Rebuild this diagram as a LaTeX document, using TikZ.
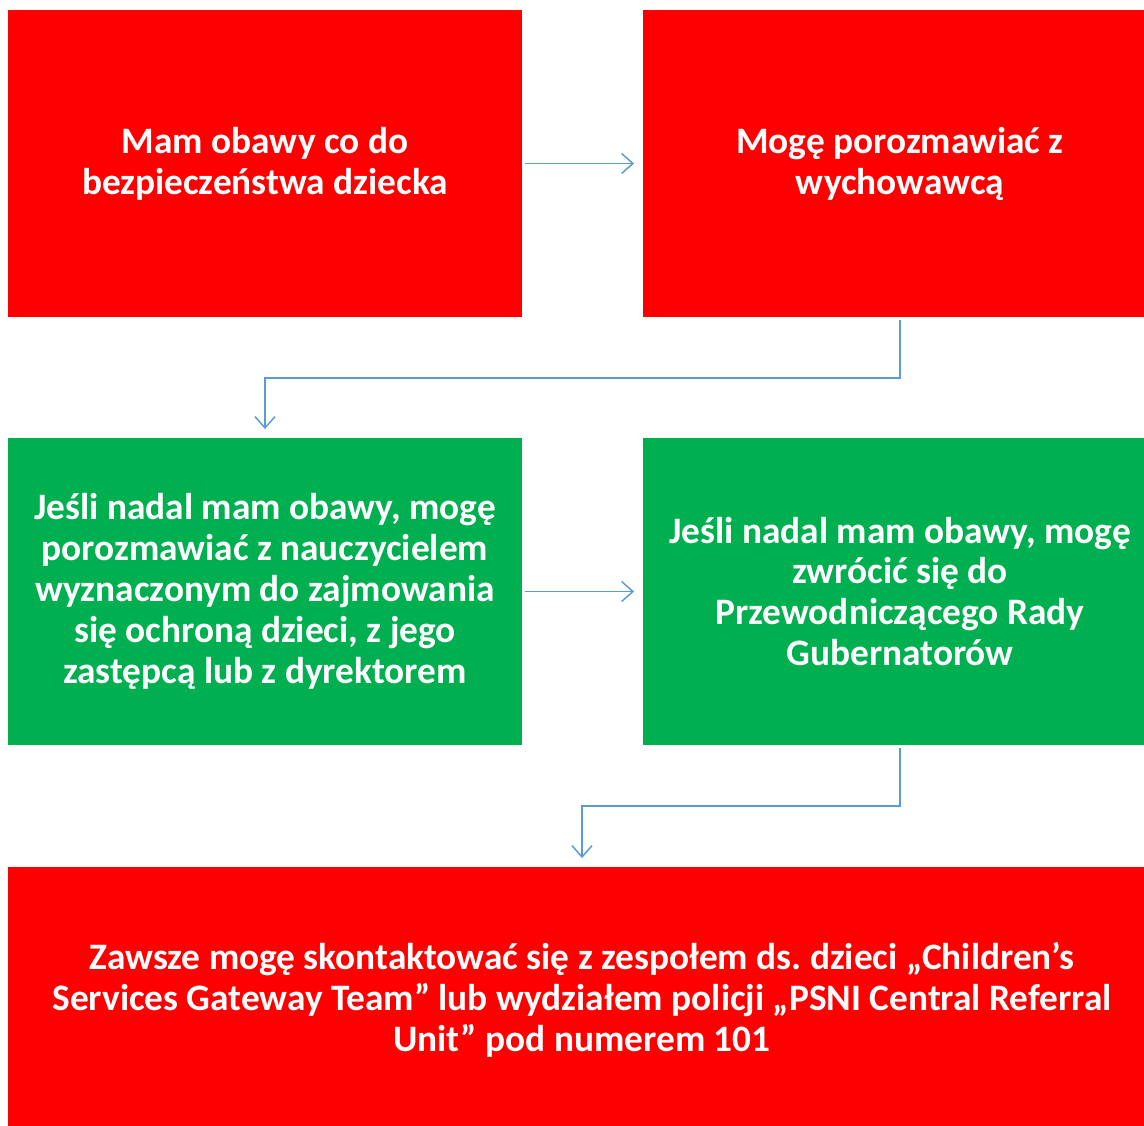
\documentclass[tikz,border=0pt]{standalone}
\usepackage{fontspec}
\setmainfont{Carlito}
\usetikzlibrary{arrows.meta}
\definecolor{boxred}{HTML}{FF0000}
\definecolor{boxgreen}{HTML}{00B050}
\definecolor{arrowblue}{HTML}{5B9BD5}
\tikzset{
  box/.style={rectangle, inner sep=0pt, text=white, font=\bfseries\frenchspacing\fontsize{28}{30.7}\selectfont, align=center},
  redbox/.style={box, fill=boxred},
  greenbox/.style={box, fill=boxgreen},
  arr/.style={draw=arrowblue, line width=1.1pt, -{Straight Barb[length=8.5pt,width=15pt,line width=1.1pt]}, shorten <=2.25pt, shorten >=6.5pt}
}
\begin{document}
\begin{tikzpicture}[x=0.75pt,y=-0.75pt]
\clip (0,0) rectangle (1144,1126);
\fill[white] (0,0) rectangle (1144,1126);
\node[redbox, minimum width=385.5pt, minimum height=230.25pt] (b1) at (265,163.5) {Mam obawy co do\\bezpieczeństwa dziecka};
\node[redbox, minimum width=385.5pt, minimum height=230.25pt] (b2) at (900,163.5) {Mogę porozmawiać z\\wychowawcą};
\node[greenbox, minimum width=385.5pt, minimum height=230.25pt] (b3) at (265,591.5) {Jeśli nadal mam obawy, mogę\\porozmawiać z nauczycielem\\wyznaczonym do zajmowania\\się ochroną dzieci, z jego\\zastępcą lub z dyrektorem};
\node[greenbox, minimum width=385.5pt, minimum height=230.25pt] (b4) at (900,591.5) {Jeśli nadal mam obawy, mogę\\zwrócić się do\\Przewodniczącego Rady\\Gubernatorów};
\node[redbox, minimum width=861.75pt, minimum height=199.5pt] (b5) at (582,1000) {Zawsze mogę skontaktować się z zespołem ds. dzieci „Children’s\\Services Gateway Team” lub wydziałem policji „PSNI Central Referral\\Unit” pod numerem 101};
\draw[arr] (b1.east) -- (b2.west);
\draw[arr] (b3.east) -- (b4.west);
\draw[arr] (b2.south) -- (900,378) -| (b3.north);
\draw[arr] (b4.south) -- (900,806) -| (b5.north);
\end{tikzpicture}
\end{document}
